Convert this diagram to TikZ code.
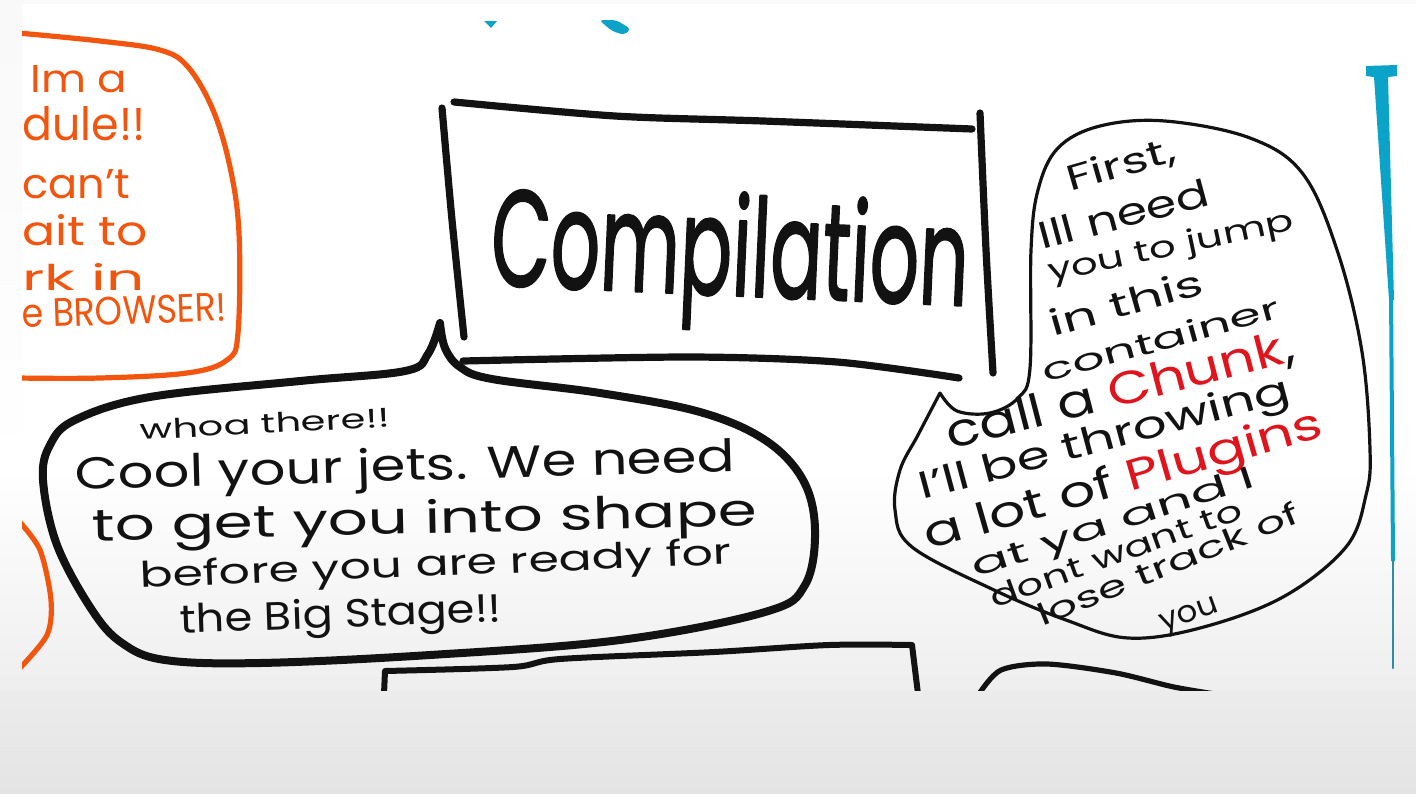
\documentclass[tikz,border=0pt]{standalone}
\usepackage{fontspec}
\setmainfont{Poppins}
\newfontfamily\titlefont{Poppins}[FakeBold=1.6]
\usepackage{graphicx}
\definecolor{inkblack}{HTML}{121212}
\definecolor{inkorange}{HTML}{F2560E}
\definecolor{inkred}{HTML}{E0141C}
\definecolor{inkcyan}{HTML}{0BA3C8}
\definecolor{inkteal}{HTML}{2B8EA2}
\newlength\hpx
\setlength\hpx{0.5pt}
\newcommand\ink[3]{\resizebox{#1\hpx}{#2\hpx}{#3}}

\begin{document}
\begin{tikzpicture}[x=0.5pt, y=-0.5pt, line cap=round, line join=round,
  thickink/.style={draw=inkblack, line width=3.6pt},
  thinink/.style={draw=inkblack, line width=1.6pt},
  orangeink/.style={draw=inkorange, line width=2.6pt},
  words/.style={inner sep=0pt, anchor=base west, text=inkblack}]
  \useasboundingbox (0,0) rectangle (1416,793);
  \fill[gray!5] (0,0) rectangle (1416,793);
  \fill[white] (22,4) rectangle (1416,470);
  \shade[top color=white, bottom color=gray!13] (0,470) rectangle (1416,690);
  \shade[top color=gray!15, bottom color=gray!21] (0,690) rectangle (1416,793);
  \shade[top color=gray!5, bottom color=white] (0,0) rectangle (22,470);

  \begin{scope}
  \clip (22,4) rectangle (1416,690);
  % whiteboard module bubble
  \draw[orangeink] plot[smooth, tension=0.6] coordinates {(18,33) (100,41) (160,50) (188,67) (213,110) (230,167) (239,233) (238,333) (227,360) (187,373) (100,378) (18,378)};
  \draw[orangeink] plot[smooth] coordinates {(18,520) (40,550) (51,600) (47,635) (20,668)};
  \node[words, text=inkorange] (imod) at (30,92) {\ink{97}{27}{Im a}};
  \node[words, text=inkorange] (imodb) at (22,140) {\ink{123}{34}{dule!!}};
  \node[words, text=inkorange] (imodc) at (22,198) {\ink{108}{29}{can’t}};
  \node[words, text=inkorange] (imodd) at (22,245) {\ink{125}{31}{ait to}};
  \node[words, text=inkorange] (imode) at (22,290) {\ink{122}{27}{rk in}};
  \node[words, text=inkorange, rotate=2] (imodf) at (22,328) {\ink{205}{28}{e BROWSER!}};

  \fill[inkcyan] (484,21) -- (497,21) -- (491,28) -- cycle;
  \fill[inkcyan, rounded corners=2pt] (599,20) -- (616,20) -- (631,29) -- (624,35) -- (612,31) -- cycle;
  \fill[inkcyan] (1366,66) -- (1397,65) -- (1397,76) -- (1388,77) -- (1394,300) -- (1389,300) -- (1374,77) -- (1366,76) -- cycle;
  \draw[inkcyan, line width=2pt] (1391,295) -- (1393,560);
  \draw[inkteal, line width=1pt] (1393,560) -- (1393,668);

  % title box
  \draw[thickink] plot[smooth] coordinates {(454,102) (615,116) (763,121) (972,129)};
  \draw[thickink] plot[smooth] coordinates {(442,108) (452,220) (464,337)};
  \draw[thickink] plot[smooth] coordinates {(980,113) (986,250) (993,373)};
  \draw[thickink] plot[smooth] coordinates {(463,361) (689,357) (837,362) (959,378)};
  \node[words, rotate=-2.5] (title) at (489,285) {\ink{478}{104}{\titlefont Compilation}};

  % left bubble
  \draw[thickink, line width=4pt] plot[smooth, tension=0.6] coordinates {(440,323) (445,348) (460,367) (492,379) (600,393) (700,412) (765,440) (803,480) (815,530) (805,585) (765,612) (620,640) (430,655) (260,663) (165,660) (122,643) (92,610) (57,545) (43,480) (50,445) (75,420) (150,397) (300,381) (405,371) (428,354) (440,323)};
  \node[words, rotate=3] (whoa) at (140,440) {\ink{250}{20}{whoa there!!}};
  \node[words, rotate=1.6] (jets) at (75,490) {\ink{660}{34}{Cool your jets. We need}};
  \node[words, rotate=1.3] (shape) at (92,541) {\ink{665}{34}{to get you into shape}};
  \node[words, rotate=2.3] (ready) at (140,588) {\ink{592}{27}{before you are ready for}};
  \node[words, rotate=2] (stage) at (180,633) {\ink{322}{30}{the Big Stage!!}};

  % chunk bubble
  \draw[thinink] plot[smooth, tension=0.6] coordinates {(940,393) (957,411) (990,413) (1018,398) (1030,368) (1031,250) (1038,190) (1058,148) (1100,126) (1165,121) (1250,138) (1303,174) (1338,253) (1362,352) (1370,450) (1366,495) (1346,547) (1283,597) (1200,628) (1128,638) (1066,620) (994,590) (912,547) (895,510) (900,470) (918,435) (940,393)};
  \node[words, rotate=16] (first) at (1070,192) {\ink{112}{27}{First,}};
  \node[words, rotate=15] (needl) at (1042,250) {\ink{175}{28}{Ill need}};
  \node[words, rotate=12] (jump) at (1050,282) {\ink{250}{23}{you to jump}};
  \node[words, rotate=16] (this) at (1053,337) {\ink{158}{27}{in this}};
  \node[words, rotate=15.5] (cont) at (1045,383) {\ink{245}{23}{container}};
  \node[words, rotate=14.5] (chunk) at (950,450) {\ink{358}{34}{call a \textcolor{inkred}{Chunk},}};
  \node[words, rotate=15] (throw) at (922,500) {\ink{383}{29}{I’ll be throwing}};
  \node[words, rotate=16] (plug) at (928,550) {\ink{413}{33}{a lot of \textcolor{inkred}{Plugins}}};
  \node[words, rotate=18] (atya) at (975,578) {\ink{296}{23}{at ya and I}};
  \node[words, rotate=20] (dont) at (994,609) {\ink{266}{22}{dont want to}};
  \node[words, rotate=22] (lose) at (1042,627) {\ink{280}{23}{lose track of}};
  \node[words, rotate=20] (you) at (1163,632) {\ink{60}{17}{you}};

  % next row, cut off
  \draw[thickink, line width=3pt] (384,694) -- plot[smooth] coordinates {(385,671) (513,667) (560,659) (714,652) (829,645) (912,645)} -- (918,694);
  \draw[thickink, line width=2.6pt] plot[smooth] coordinates {(979,694) (1001,670) (1047,664) (1116,673) (1174,687) (1228,696)};
  \end{scope}
\end{tikzpicture}
\end{document}
